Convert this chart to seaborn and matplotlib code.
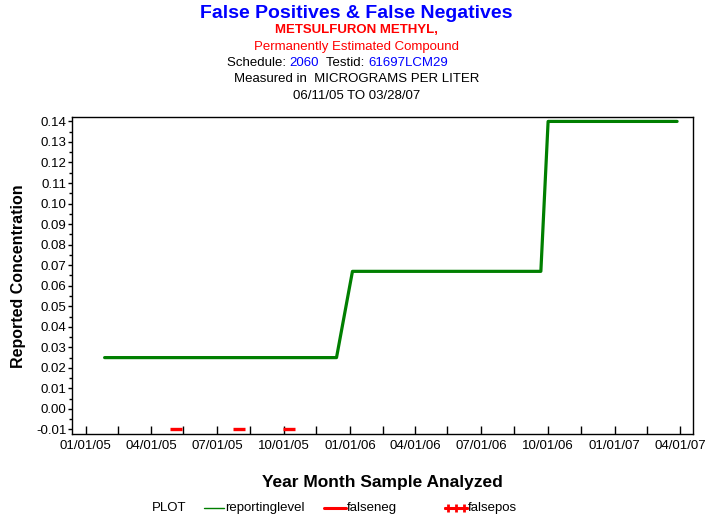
import seaborn as sns
import matplotlib.pyplot as plt
import matplotlib.dates as mdates
from matplotlib.lines import Line2D
from matplotlib.transforms import offset_copy
import pandas as pd

sns.set_style("white")
plt.rcParams['font.family'] = ['Liberation Sans', 'DejaVu Sans']
plt.rcParams['text.color'] = 'black'
plt.rcParams['axes.labelcolor'] = 'black'
plt.rcParams['xtick.color'] = 'black'
plt.rcParams['ytick.color'] = 'black'

# reporting level (green step line)
rl_dates = ['2005-01-27', '2005-12-13', '2006-01-04', '2006-09-21', '2006-10-01', '2007-03-28']
rl_values = [0.025, 0.025, 0.067, 0.067, 0.14, 0.14]

# false negatives (red dashes)
fn_dates = ['2005-05-06', '2005-08-01', '2005-10-08']
fn_values = [-0.01, -0.01, -0.01]

rl = pd.DataFrame({'date': pd.to_datetime(rl_dates), 'value': rl_values})
fn = pd.DataFrame({'date': pd.to_datetime(fn_dates), 'value': fn_values})

fig = plt.figure(figsize=(7.13, 5.23), dpi=100)
ax = fig.add_axes([0.101, 0.1696, 0.871, 0.6061])

sns.lineplot(data=rl, x='date', y='value', color='#007f00', lw=2.3, sort=False, ax=ax)
sns.scatterplot(data=fn, x='date', y='value', color='red', marker='_', s=70,
                linewidth=2.4, ax=ax)

ax.set_xlim(pd.Timestamp('2004-12-13'), pd.Timestamp('2007-04-19'))
ax.set_ylim(-0.01234, 0.1420)

ax.xaxis.set_major_locator(mdates.MonthLocator(bymonth=[1, 4, 7, 10]))
ax.xaxis.set_minor_locator(mdates.MonthLocator(bymonth=[2, 5, 8, 11], bymonthday=15))
ax.xaxis.set_major_formatter(mdates.DateFormatter('%m/%d/%y'))
ax.set_yticks([i / 100 for i in range(-1, 15)])
ax.set_yticks([i / 1000 for i in range(-5, 141, 10)], minor=True)
ax.set_yticklabels(['%.2f' % (i / 100) for i in range(-1, 15)])

ax.tick_params(axis='x', which='both', direction='in', length=6, width=1,
               labelsize=9.5, pad=4, bottom=True)
ax.tick_params(axis='y', which='major', direction='out', length=3, width=1,
               labelsize=9.5, pad=1, left=True)
ax.tick_params(axis='y', which='minor', direction='out', length=2, width=1, left=True)
for s in ax.spines.values():
    s.set_color('black')
    s.set_linewidth(1)

ax.set_xlabel('Year Month Sample Analyzed', fontsize=12.5, fontweight='bold', labelpad=17)
ax.set_ylabel('Reported Concentration', fontsize=11.5, fontweight='bold', labelpad=7)

# titles
fig.text(0.5, 1 - 13 / 523, 'False Positives & False Negatives', color='#0000ff',
         fontsize=14, fontweight='bold', ha='center', va='center')
fig.text(0.5, 1 - 30 / 523, 'METSULFURON METHYL,', color='red', fontsize=9.5,
         fontweight='bold', ha='center', va='center')
fig.text(0.5, 1 - 47 / 523, 'Permanently Estimated Compound', color='red', fontsize=9.5,
         ha='center', va='center')

# schedule line, pieces placed one after another
y4 = 1 - 63 / 523
parts = [('Schedule: ', 'black'), ('2060', '#0000ff'), ('  Testid: ', 'black'),
         ('61697LCM29', '#0000ff')]
renderer = fig.canvas.get_renderer()
x = 227 / 713
for txt, col in parts:
    t = fig.text(x, y4, txt, color=col, fontsize=9.5, ha='left', va='center')
    bb = t.get_window_extent(renderer=renderer)
    x += bb.width / fig.bbox.width

fig.text(0.5, 1 - 79 / 523, 'Measured in  MICROGRAMS PER LITER', fontsize=9.5,
         ha='center', va='center')
fig.text(0.5, 1 - 96 / 523, '06/11/05 TO 03/28/07', fontsize=9.5, ha='center', va='center')

# legend
ly = 1 - 508 / 523
fig.text(152 / 713, ly, 'PLOT', fontsize=9.5, ha='left', va='center')
fig.add_artist(Line2D([204 / 713, 224 / 713], [ly, ly], color='#007f00', lw=1))
fig.text(225 / 713, ly, 'reportinglevel', fontsize=9.5, ha='left', va='center')
fig.add_artist(Line2D([324 / 713, 346 / 713], [ly, ly], color='red', lw=2.2))
fig.text(347 / 713, ly, 'falseneg', fontsize=9.5, ha='left', va='center')
fig.add_artist(Line2D([445 / 713, 467 / 713], [ly, ly], color='red', lw=2.2))
fig.add_artist(Line2D([448 / 713, 456 / 713, 464 / 713], [ly, ly, ly], color='red', lw=0,
                      marker='+', markersize=6, markeredgewidth=2))
fig.text(468 / 713, ly, 'falsepos', fontsize=9.5, ha='left', va='center')

fig.savefig('out.png', dpi=100)
